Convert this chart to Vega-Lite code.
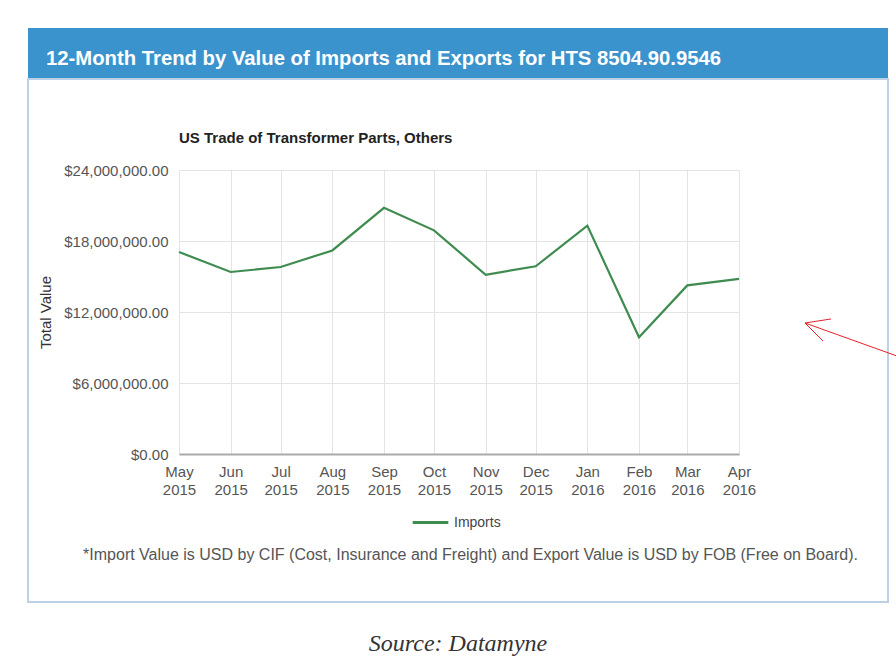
{
  "$schema": "https://vega.github.io/schema/vega-lite/v6.json",
  "background": "white",
  "padding": {"left": 27, "top": 28, "right": 0, "bottom": 0},
  "spacing": 0,
  "bounds": "flush",
  "config": {
    "font": "Liberation Sans",
    "view": {"stroke": null}
  },
  "title": {
    "text": "Source: Datamyne",
    "orient": "bottom",
    "anchor": "middle",
    "frame": "group",
    "font": "Liberation Serif",
    "fontStyle": "italic",
    "fontWeight": "normal",
    "fontSize": 24,
    "color": "#333333",
    "offset": 29
  },
  "vconcat": [
    {
      "width": 860,
      "height": 51,
      "view": {"fill": "#3b93cd", "stroke": null},
      "title": {
        "text": "12-Month Trend by Value of Imports and Exports for HTS 8504.90.9546",
        "anchor": "start",
        "frame": "group",
        "color": "white",
        "fontSize": 20.3,
        "fontWeight": "bold",
        "dx": 18,
        "offset": -41
      },
      "data": {"values": []},
      "mark": "point",
      "encoding": {}
    },
    {
      "width": 860,
      "height": 523,
      "view": {"fill": "white", "stroke": "#bcd0e6", "strokeWidth": 2},
      "title": {
        "text": "US Trade of Transformer Parts, Others",
        "anchor": "start",
        "frame": "group",
        "color": "#222222",
        "fontSize": 15,
        "fontWeight": "bold",
        "dx": 151,
        "offset": -67
      },
      "resolve": {"axis": {"x": "independent"}},
      "layer": [
        {
          "data": {
            "values": [
              {"month": "2015-05-01T00:00:00", "value": 17070000, "series": "Imports"},
              {"month": "2015-06-01T00:00:00", "value": 15380000, "series": "Imports"},
              {"month": "2015-07-01T00:00:00", "value": 15800000, "series": "Imports"},
              {"month": "2015-08-01T00:00:00", "value": 17200000, "series": "Imports"},
              {"month": "2015-09-01T00:00:00", "value": 20800000, "series": "Imports"},
              {"month": "2015-10-01T00:00:00", "value": 18900000, "series": "Imports"},
              {"month": "2015-11-01T00:00:00", "value": 15150000, "series": "Imports"},
              {"month": "2015-12-01T00:00:00", "value": 15860000, "series": "Imports"},
              {"month": "2016-01-01T00:00:00", "value": 19300000, "series": "Imports"},
              {"month": "2016-02-01T00:00:00", "value": 9870000, "series": "Imports"},
              {"month": "2016-03-01T00:00:00", "value": 14250000, "series": "Imports"},
              {"month": "2016-04-01T00:00:00", "value": 14800000, "series": "Imports"}
            ]
          },
          "mark": {"type": "line", "strokeWidth": 2.2},
          "encoding": {
            "x": {
              "field": "month",
              "type": "temporal",
              "scale": {
                "domain": [{"year": 2015, "month": 5, "date": 1}, {"year": 2016, "month": 4, "date": 1}],
                "range": [151, 711],
                "nice": false
              },
              "axis": {
                "orient": "bottom",
                "offset": -148,
                "tickCount": {"interval": "month", "step": 1},
                "labelExpr": "[timeFormat(datum.value, '%b'), timeFormat(datum.value, '%Y')]",
                "labelFontSize": 15,
                "labelColor": "#555555",
                "labelLineHeight": 18.5,
                "labelPadding": 10,
                "labelOverlap": false,
                "labelFlush": false,
                "ticks": false,
                "domainColor": "#aaaaaa",
                "domainWidth": 2,
                "grid": false,
                "title": "*Import Value is USD by CIF (Cost, Insurance and Freight) and Export Value is USD by FOB (Free on Board).",
                "titleFontSize": 16,
                "titleFontWeight": "normal",
                "titleColor": "#555555",
                "titlePadding": 49,
                "titleX": 442
              }
            },
            "y": {
              "field": "value",
              "type": "quantitative",
              "scale": {"domain": [0, 24000000], "range": [375, 91], "nice": false},
              "axis": {
                "orient": "left",
                "offset": -151,
                "values": [0, 6000000, 12000000, 18000000, 24000000],
                "format": "$,.2f",
                "labelFontSize": 15,
                "labelColor": "#555555",
                "labelPadding": 11,
                "ticks": false,
                "domain": false,
                "grid": true,
                "gridColor": "#e4e4e4",
                "title": "Total Value",
                "titleFontSize": 15,
                "titleFontWeight": "normal",
                "titleColor": "#333333",
                "titlePadding": 10
              }
            },
            "color": {
              "field": "series",
              "type": "nominal",
              "scale": {"domain": ["Imports"], "range": ["#3f8b50"]},
              "legend": {
                "orient": "none",
                "legendX": 383,
                "legendY": 475,
                "direction": "horizontal",
                "title": null,
                "symbolType": "stroke",
                "symbolSize": 1267,
                "symbolStrokeWidth": 3,
                "labelFontSize": 14,
                "labelColor": "#444444",
                "labelOffset": 4,
                "padding": 0
              }
            }
          }
        },
        {
          "data": {
            "values": [
              {"x": "2016-05-10T14:24:00", "y": 11070000, "x2": "2016-07-04T19:00:00", "y2": 8280000},
              {"x": "2016-05-10T14:24:00", "y": 11070000, "x2": "2016-05-26T05:00:00", "y2": 11410000},
              {"x": "2016-05-10T14:24:00", "y": 11070000, "x2": "2016-05-21T10:00:00", "y2": 9550000}
            ]
          },
          "mark": {"type": "rule", "color": "#e8202a", "strokeWidth": 1, "clip": false},
          "encoding": {
            "x": {
              "field": "x",
              "type": "temporal",
              "axis": {
                "orient": "top",
                "tickCount": {"interval": "month", "step": 1},
                "grid": true,
                "gridColor": "#e4e4e4",
                "labels": false,
                "ticks": false,
                "domain": false,
                "title": null
              }
            },
            "y": {"field": "y", "type": "quantitative"},
            "x2": {"field": "x2"},
            "y2": {"field": "y2"}
          }
        }
      ]
    }
  ]
}
